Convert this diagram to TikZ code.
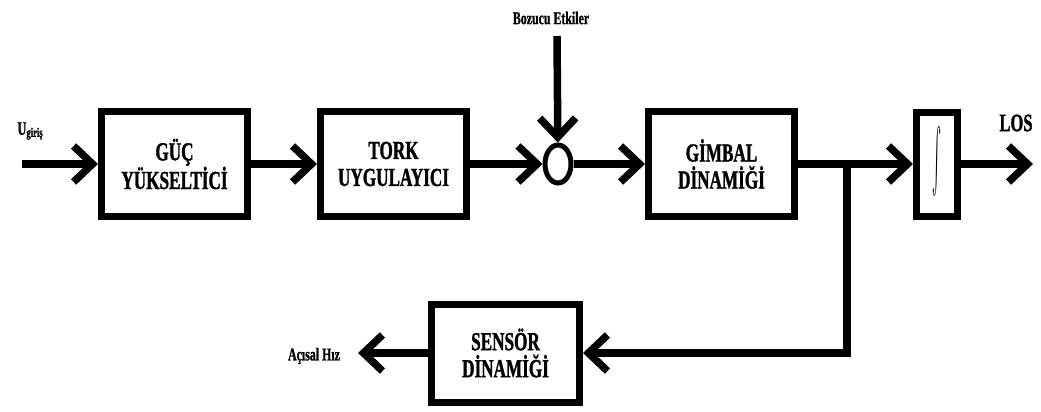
\documentclass[tikz,border=0pt]{standalone}
\usepackage{fontspec}
\newfontfamily\blockfont[FakeStretch=0.66,FakeBold=1.2]{Liberation Serif}
\usetikzlibrary{arrows.meta,shapes.geometric,positioning}

\begin{document}
\begin{tikzpicture}[x=1pt,y=-1pt,
    block/.style={draw, line width=7pt, minimum width=146pt, minimum height=105pt,
      align=center, inner sep=0pt, font=\blockfont\bfseries\fontsize{26}{27}\selectfont},
    flow/.style={line width=7.5pt, -{Straight Barb[length=19pt,width=36pt]}},
    note/.style={inner sep=0pt, font=\blockfont\bfseries\fontsize{18}{19}\selectfont}]
  \useasboundingbox (0,0) rectangle (1041,412);
  % Define blocks
  \node[block] (guc) at (174.5,164) {GÜÇ\\YÜKSELTİCİ};
  \node[block] (tork) at (393.5,164) {TORK\\UYGULAYICI};
  \node[draw, ellipse, line width=5pt, minimum width=26pt, minimum height=38pt,
    inner sep=0pt] (sum) at (558,164) {};
  \node[block] (gimbal) at (721.5,164) {GİMBAL\\DİNAMİĞİ};
  \node[block, minimum width=41pt, minimum height=104pt] (integ) at (937,164)
    {\resizebox{9pt}{74pt}{$\int$}};
  \node[block, minimum width=148pt, minimum height=98pt] (sensor) at (505.5,353)
    {SENSÖR\\DİNAMİĞİ};
  % Define free ends
  \coordinate (in) at (22,164);
  \coordinate (dist) at (557,36);
  \coordinate (los) at (1033,164);
  \coordinate (rate) at (358,353);
  \coordinate (branch) at (847,164);
  % Label the signals
  \node[note] (uin) at (30,131)
    {{\fontsize{19}{19}\selectfont U}{\fontsize{13}{13}\selectfont\raisebox{-2pt}{giriş}}};
  \node[note] (bozucu) at (551,18) {Bozucu Etkiler};
  \node[note, font=\blockfont\bfseries\fontsize{25}{25}\selectfont] (loslbl) at (1016,123) {LOS};
  \node[note] (aci) at (314,356) {Açısal Hız};
  % Connect the blocks
  \draw[flow] (in) -- (guc);
  \draw[flow] (guc) -- (tork);
  \draw[flow] (tork) -- (sum);
  \draw[flow] (dist) -- (sum);
  \draw[flow] (sum) -- (gimbal);
  \draw[flow] (gimbal) -- (integ);
  \draw[flow] (integ) -- (los);
  \draw[flow] (branch) |- (sensor);
  \draw[flow] (sensor) -- (rate);
\end{tikzpicture}
\end{document}
